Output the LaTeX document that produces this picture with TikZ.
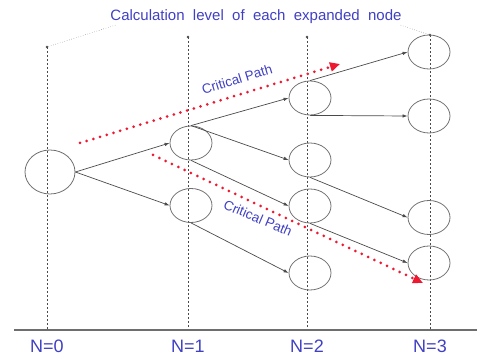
\documentclass[tikz,border=0pt]{standalone}
\usepackage{fontspec}
\setmainfont{Liberation Sans}
\usetikzlibrary{arrows.meta,shapes.geometric}
\definecolor{TBlue}{RGB}{64,64,196}
\definecolor{CRed}{RGB}{238,24,48}
\definecolor{DGray}{HTML}{4A4A4A}
\definecolor{LGray}{HTML}{6E6E6E}

\begin{document}
\begin{tikzpicture}[x=1pt, y=1pt,
    state/.style={draw=LGray, line width=0.8pt, ellipse, minimum width=42, minimum height=34, inner sep=0pt},
    level/.style={DGray, dash pattern=on 2pt off 2pt},
    link/.style={DGray, line width=0.7pt, -{Latex[length=5pt,width=3.5pt]}},
    critical/.style={CRed, line width=3pt, line cap=round, dash pattern=on 0pt off 7pt,
        -{Triangle[length=10pt,width=9pt]}},
    tag/.style={text=TBlue, inner sep=1pt, font=\fontsize{13.5}{15}\selectfont}]
\useasboundingbox (0,0) rectangle (477,356);

% levels and axis
\coordinate (axis-l) at (14,26);
\coordinate (axis-r) at (477,26);
\foreach \i/\x/\t in {0/47/309, 1/188/319, 2/307/319, 3/430/321}{
    \coordinate (top\i) at (\x,\t);
    \coordinate (bot\i) at (\x,26);
    \draw[level] (top\i) -- (bot\i);
    \fill[DGray] (top\i) circle (1.4);
    \node[text=TBlue, font=\fontsize{18}{20}\selectfont] (lab\i) at (\x,10) {N=\i};
}
\draw[LGray, line width=1.4pt] (axis-l) -- (axis-r);

\node[tag, font=\fontsize{15}{17}\selectfont] (title) at (256,339)
    {Calculation\ \ level\ \ of\ \ each\ \ expanded\ \ node};
\draw[DGray, dotted] ([xshift=6pt]title.south west) -- (top0);
\draw[DGray, dotted] ([xshift=-2pt]title.south east) -- (top3);

% tree
\node[state, minimum width=50, minimum height=44] (N0-a) at (50,184) {};
\node[state] (N1-a) at (191,213) {};
\node[state] (N1-b) at (191,150.5) {};
\node[state] (N2-a) at (310,258) {};
\node[state] (N2-b) at (310,196) {};
\node[state] (N2-c) at (310,150) {};
\node[state] (N2-d) at (310,83) {};
\node[state] (N3-a) at (429,304) {};
\node[state] (N3-b) at (429,240) {};
\node[state] (N3-c) at (429,138.5) {};
\node[state] (N3-d) at (429,93) {};

\draw[link] (N0-a.east) -- (N1-a.west);
\draw[link] (N0-a.east) -- (N1-b.west);
\draw[link] (N1-a.north) -- (N2-a.west);
\draw[link] (N1-a.north) -- (N2-b.west);
\draw[link] (N1-a.south) -- (N2-c.west);
\draw[link] (N1-b.south) -- (N2-d.west);
\draw[link] (N2-a.north) -- (N3-a.west);
\draw[link] (N2-a.south) -- (N3-b.west);
\draw[link] (N2-b.south) -- (N3-c.west);
\draw[link] (N2-c.south) -- (N3-d.west);

% critical paths
\coordinate (cp1-s) at (80,213);
\coordinate (cp1-e) at (340,292);
\coordinate (cp2-s) at (153,201);
\coordinate (cp2-e) at (423,73);
\draw[critical] (cp1-s) -- (cp1-e);
\draw[critical] (cp2-s) -- (cp2-e);
\node[tag, rotate=17] (cp1-lab) at (237,277) {Critical Path};
\node[tag, rotate=-23] (cp2-lab) at (258,138) {Critical Path};

\end{tikzpicture}
\end{document}
